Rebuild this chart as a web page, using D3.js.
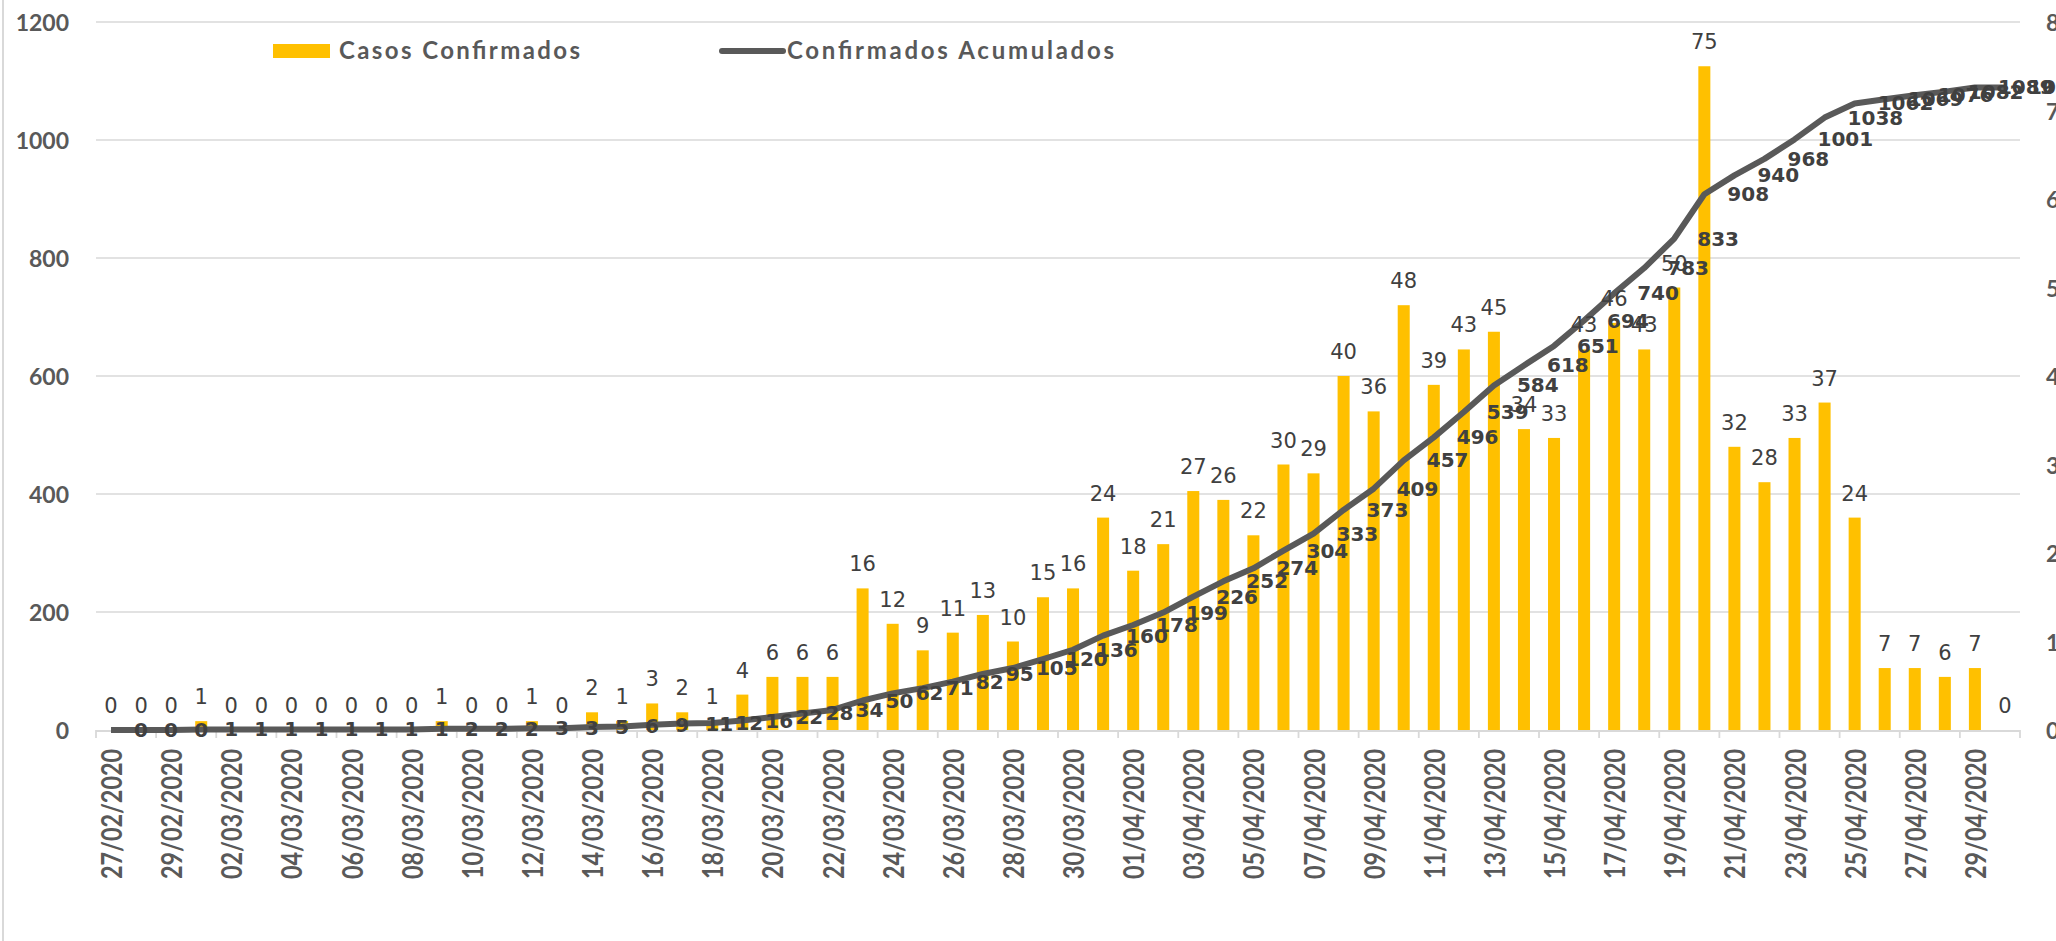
<!DOCTYPE html>
<html lang="es">
<head>
<meta charset="utf-8">
<title>Casos Confirmados</title>
<script src="https://d3js.org/d3.v7.min.js"></script>
<style>
body { margin: 0; background: #fff; }
.axis-label { font-family: Lato, "Liberation Sans", sans-serif; font-weight: bold; font-size: 23px; fill: #595959; }
.date-label { font-family: Lato, "Liberation Sans", sans-serif; font-weight: bold; font-size: 28px; fill: #595959; }
.legend-text { font-family: Lato, "Liberation Sans", sans-serif; font-weight: bold; font-size: 24px; fill: #595959; }
.bar-label { font-family: "DejaVu Sans", sans-serif; font-size: 21px; fill: #404040; }
.cum-label { font-family: "DejaVu Sans", sans-serif; font-weight: bold; font-size: 20px; fill: #404040; }
</style>
</head>
<body>
<script>
// fechas (categorias)
var fechas = [
  "27/02/2020","28/02/2020","29/02/2020","01/03/2020","02/03/2020","03/03/2020","04/03/2020","05/03/2020",
  "06/03/2020","07/03/2020","08/03/2020","09/03/2020","10/03/2020","11/03/2020","12/03/2020","13/03/2020",
  "14/03/2020","15/03/2020","16/03/2020","17/03/2020","18/03/2020","19/03/2020","20/03/2020","21/03/2020",
  "22/03/2020","23/03/2020","24/03/2020","25/03/2020","26/03/2020","27/03/2020","28/03/2020","29/03/2020",
  "30/03/2020","31/03/2020","01/04/2020","02/04/2020","03/04/2020","04/04/2020","05/04/2020","06/04/2020",
  "07/04/2020","08/04/2020","09/04/2020","10/04/2020","11/04/2020","12/04/2020","13/04/2020","14/04/2020",
  "15/04/2020","16/04/2020","17/04/2020","18/04/2020","19/04/2020","20/04/2020","21/04/2020","22/04/2020",
  "23/04/2020","24/04/2020","25/04/2020","26/04/2020","27/04/2020","28/04/2020","29/04/2020","30/04/2020"
];

// casos confirmados por dia (eje derecho)
var casos = [
  0,0,0,1,0,0,0,0,0,0,
  0,1,0,0,1,0,2,1,3,2,
  1,4,6,6,6,16,12,9,11,13,
  10,15,16,24,18,21,27,26,22,30,
  29,40,36,48,39,43,45,34,33,43,
  46,43,50,75,32,28,33,37,24,7,
  7,6,7,0
];

// confirmados acumulados (eje izquierdo)
var acumulados = [
  0,0,0,1,1,1,1,1,1,1,
  1,2,2,2,3,3,5,6,9,11,
  12,16,22,28,34,50,62,71,82,95,
  105,120,136,160,178,199,226,252,274,304,
  333,373,409,457,496,539,584,618,651,694,
  740,783,833,908,940,968,1001,1038,1062,1069,
  1076,1082,1089,1089
];

var ticksIzq = [0,200,400,600,800,1000,1200];
var ticksDer = [0,10,20,30,40,50,60,70,80];

var width = 2056, height = 941;
var mLeft = 96, mRight = 2020, mTop = 22, mBottom = 730;

var svg = d3.select("body").append("svg")
  .attr("width", width)
  .attr("height", height);

var x = d3.scaleBand().domain(fechas).range([mLeft, mRight]);
var yL = d3.scaleLinear().domain([0, 1200]).range([mBottom, mTop]);
var yR = d3.scaleLinear().domain([0, 80]).range([mBottom, mTop]);

// borde del area
svg.append("line")
  .attr("x1", 3).attr("x2", 3).attr("y1", 0).attr("y2", height)
  .attr("stroke", "#d9d9d9").attr("stroke-width", 2);

// lineas de cuadricula
svg.selectAll(".grid")
  .data(ticksIzq.slice(1))
  .enter().append("line")
  .attr("class", "grid")
  .attr("x1", mLeft).attr("x2", mRight)
  .attr("y1", function(d) { return yL(d); })
  .attr("y2", function(d) { return yL(d); })
  .attr("stroke", "#d9d9d9").attr("stroke-width", 1.6);

svg.selectAll(".ylabel")
  .data(ticksIzq)
  .enter().append("text")
  .attr("class", "axis-label")
  .attr("x", 69)
  .attr("y", function(d) { return yL(d); })
  .attr("text-anchor", "end")
  .attr("dominant-baseline", "central")
  .text(function(d) { return d; });

svg.selectAll(".y2label")
  .data(ticksDer)
  .enter().append("text")
  .attr("class", "axis-label")
  .attr("x", 2046)
  .attr("y", function(d) { return yR(d); })
  .attr("dominant-baseline", "central")
  .text(function(d) { return d; });

// barras
var bw = x.bandwidth() * 0.4;
svg.selectAll(".bar")
  .data(casos)
  .enter().append("rect")
  .attr("class", "bar")
  .attr("x", function(d, i) { return x(fechas[i]) + (x.bandwidth() - bw) / 2; })
  .attr("width", bw)
  .attr("y", function(d) { return yR(d); })
  .attr("height", function(d) { return mBottom - yR(d); })
  .attr("fill", "#FFC000");

// eje x
svg.append("line")
  .attr("x1", mLeft).attr("x2", mRight).attr("y1", mBottom + 1).attr("y2", mBottom + 1)
  .attr("stroke", "#d9d9d9").attr("stroke-width", 1.8);

var tickIdx = fechas.map(function(d, i) { return i; }).filter(function(i) { return i % 2 == 0; });
svg.selectAll(".xtick")
  .data(tickIdx.concat([fechas.length]))
  .enter().append("line")
  .attr("class", "xtick")
  .attr("x1", function(i) { return i < fechas.length ? x(fechas[i]) : mRight; })
  .attr("x2", function(i) { return i < fechas.length ? x(fechas[i]) : mRight; })
  .attr("y1", mBottom).attr("y2", mBottom + 8)
  .attr("stroke", "#d9d9d9").attr("stroke-width", 1.8);

svg.selectAll(".date-label")
  .data(tickIdx)
  .enter().append("text")
  .attr("class", "date-label")
  .attr("transform", function(i) {
    return "translate(" + (x(fechas[i]) + x.bandwidth() / 2) + ",749) rotate(-90)";
  })
  .attr("text-anchor", "end")
  .attr("dominant-baseline", "central")
  .attr("textLength", 130)
  .attr("lengthAdjust", "spacingAndGlyphs")
  .text(function(i) { return fechas[i]; });

// linea acumulados
var line = d3.line()
  .x(function(d, i) { return x(fechas[i]) + x.bandwidth() / 2; })
  .y(function(d) { return yL(d); });

svg.append("path")
  .datum(acumulados)
  .attr("d", line)
  .attr("fill", "none")
  .attr("stroke", "#595959")
  .attr("stroke-width", 6)
  .attr("stroke-linejoin", "round");

// etiquetas
svg.selectAll(".bar-label")
  .data(casos)
  .enter().append("text")
  .attr("class", "bar-label")
  .attr("x", function(d, i) { return x(fechas[i]) + x.bandwidth() / 2; })
  .attr("y", function(d) { return yR(d) - 17; })
  .attr("text-anchor", "middle")
  .text(function(d) { return d; });

svg.selectAll(".cum-label")
  .data(acumulados)
  .enter().append("text")
  .attr("class", "cum-label")
  .attr("x", function(d, i) { return x(fechas[i]) + x.bandwidth() / 2 + 23; })
  .attr("y", function(d) { return yL(d); })
  .attr("dominant-baseline", "central")
  .text(function(d) { return d; });

// leyenda
svg.append("rect")
  .attr("x", 273).attr("y", 44).attr("width", 57).attr("height", 14)
  .attr("fill", "#FFC000");
svg.append("text")
  .attr("class", "legend-text")
  .attr("x", 339).attr("y", 59)
  .attr("textLength", 241)
  .text("Casos Confirmados");
svg.append("line")
  .attr("x1", 722).attr("x2", 783).attr("y1", 51).attr("y2", 51)
  .attr("stroke", "#595959").attr("stroke-width", 6).attr("stroke-linecap", "round");
svg.append("text")
  .attr("class", "legend-text")
  .attr("x", 787).attr("y", 59)
  .attr("textLength", 327)
  .text("Confirmados Acumulados");
</script>
</body>
</html>
